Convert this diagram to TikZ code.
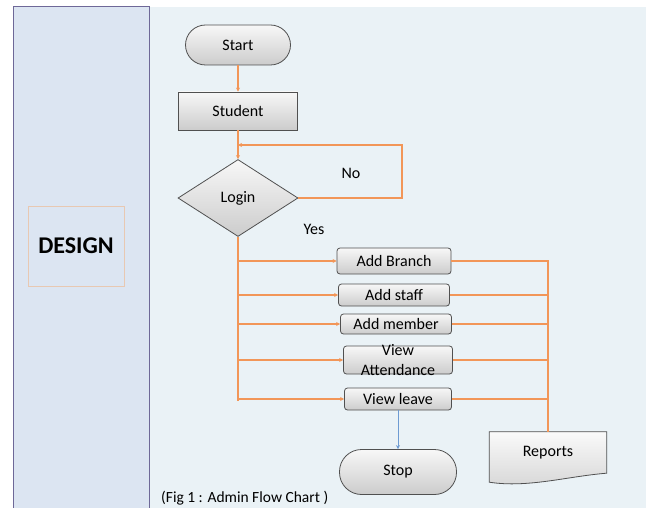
\documentclass[tikz,border=0pt]{standalone}
\usepackage{fontspec}
\setmainfont{Carlito}
\usetikzlibrary{shapes.geometric,arrows.meta,calc}
\definecolor{lpanel}{RGB}{220,229,242}
\definecolor{lborder}{RGB}{110,104,152}
\definecolor{rpanel}{RGB}{234,242,246}
\definecolor{flow}{RGB}{242,150,88}
\definecolor{dbox}{RGB}{232,200,178}
\definecolor{nborder}{RGB}{80,80,80}
\definecolor{blueflow}{RGB}{110,155,210}
\begin{document}
\begin{tikzpicture}[x=1pt,y=1pt,
  txt/.style={font=\fontsize{16}{20}\selectfont, text=black},
  shaded/.style={draw=nborder, line width=0.8pt, top color=gray!6, bottom color=gray!40},
  term/.style={shaded, rounded corners=20pt, txt, inner sep=0pt},
  proc/.style={shaded, txt, inner sep=0pt},
  opbox/.style={shaded, rounded corners=3pt, txt, inner sep=0pt},
  dia/.style={diamond, shaded, txt, inner sep=0pt},
  line/.style={draw=flow, line width=1.6pt},
  tip/.style={-{Stealth[length=4pt,width=4pt]}}
]
\useasboundingbox (0,0) rectangle (648,-508);
% panels
\fill[white] (0,0) rectangle (648,-508);
\draw[fill=lpanel, draw=lborder, line width=1pt] (13,-7) rectangle (149,-508);
\fill[rpanel] (149.5,-7) rectangle (646,-508);
\draw[lborder, line width=1pt] (149,-7) -- (149,-508);
\node[draw=dbox, line width=0.8pt, minimum width=96pt, minimum height=80pt, font=\fontsize{24}{27}\selectfont\bfseries] (design) at (76,-246) {DESIGN};

% nodes
\node[term, minimum width=105pt, minimum height=40pt] (start) at (238,-45) {Start};
\node[proc, minimum width=119pt, minimum height=38pt] (student) at (238,-111) {Student};
\node[dia, minimum width=120pt, minimum height=77pt] (login) at (238,-198) {Login};
\node[opbox, minimum width=114pt, minimum height=26pt] (ab) at (394,-261) {Add Branch};
\node[opbox, minimum width=111pt, minimum height=22pt] (as) at (394,-295) {Add staff};
\node[opbox, minimum width=111pt, minimum height=20pt] (am) at (396,-324) {Add member};
\node[opbox, minimum width=109pt, minimum height=28pt] (va) at (398,-360) {};
\node[txt, align=center, inner sep=0pt] (vatxt) at (va) {View\\Attendance};
\node[opbox, minimum width=107pt, minimum height=22pt] (vl) at (398,-399) {View leave};
\node[term, minimum width=117pt, minimum height=45pt, rounded corners=22pt] (stop) at (398,-472) {Stop};
\node[txt, minimum width=117pt, minimum height=50pt, inner sep=0pt] (rep) at (548,-457) {};
\draw[draw=nborder, line width=0.8pt, top color=gray!4, bottom color=gray!32]
  (rep.north west) -- (rep.north east) -- ($(rep.south east)+(0,9)$)
  .. controls ($(rep.south)+(20,6)$) and ($(rep.south)+(-20,-6)$) .. (rep.south west) -- cycle;
\node[txt] (reptxt) at (548,-453) {Reports};

% labels
\node[txt] (no) at (351,-173) {No};
\node[txt] (yes) at (314,-229) {Yes};
\node[txt, anchor=west, inner sep=0pt, font=\fontsize{15.5}{19}\selectfont] (cap) at (161,-498) {(Fig 1 : Admin Flow Chart )};

% connectors
\coordinate (nocorner) at (402,-145);
\coordinate (join) at (238,-145);
\coordinate (trunkend) at (238,-401);
\coordinate (bustop) at (548,-261);
\draw[line, tip] (start) -- (student);
\draw[line, tip] (student) -- (login);
\draw[line, tip] (login.east) -| (nocorner) -- (join);
\draw[line] (login.south) -- (trunkend);
\draw[line, tip] (login.south |- ab.west) -- (ab.west);
\draw[line, tip] (login.south |- as.west) -- (as.west);
\draw[line, tip] (login.south |- am.west) -- (am.west);
\draw[line, tip] (login.south |- va.west) -- (va.west);
\draw[line, tip] (login.south |- vl.west) -- (vl.west);
\draw[line] (ab.east) -- (bustop) -- (rep.north);
\draw[line] (as.east) -- (bustop |- as.east);
\draw[line] (am.east) -- (bustop |- am.east);
\draw[line] (va.east) -- (bustop |- va.east);
\draw[line] (vl.east) -- (bustop |- vl.east);
\draw[blueflow, line width=0.8pt, tip] (vl.south) -- (stop.north);
\end{tikzpicture}
\end{document}
